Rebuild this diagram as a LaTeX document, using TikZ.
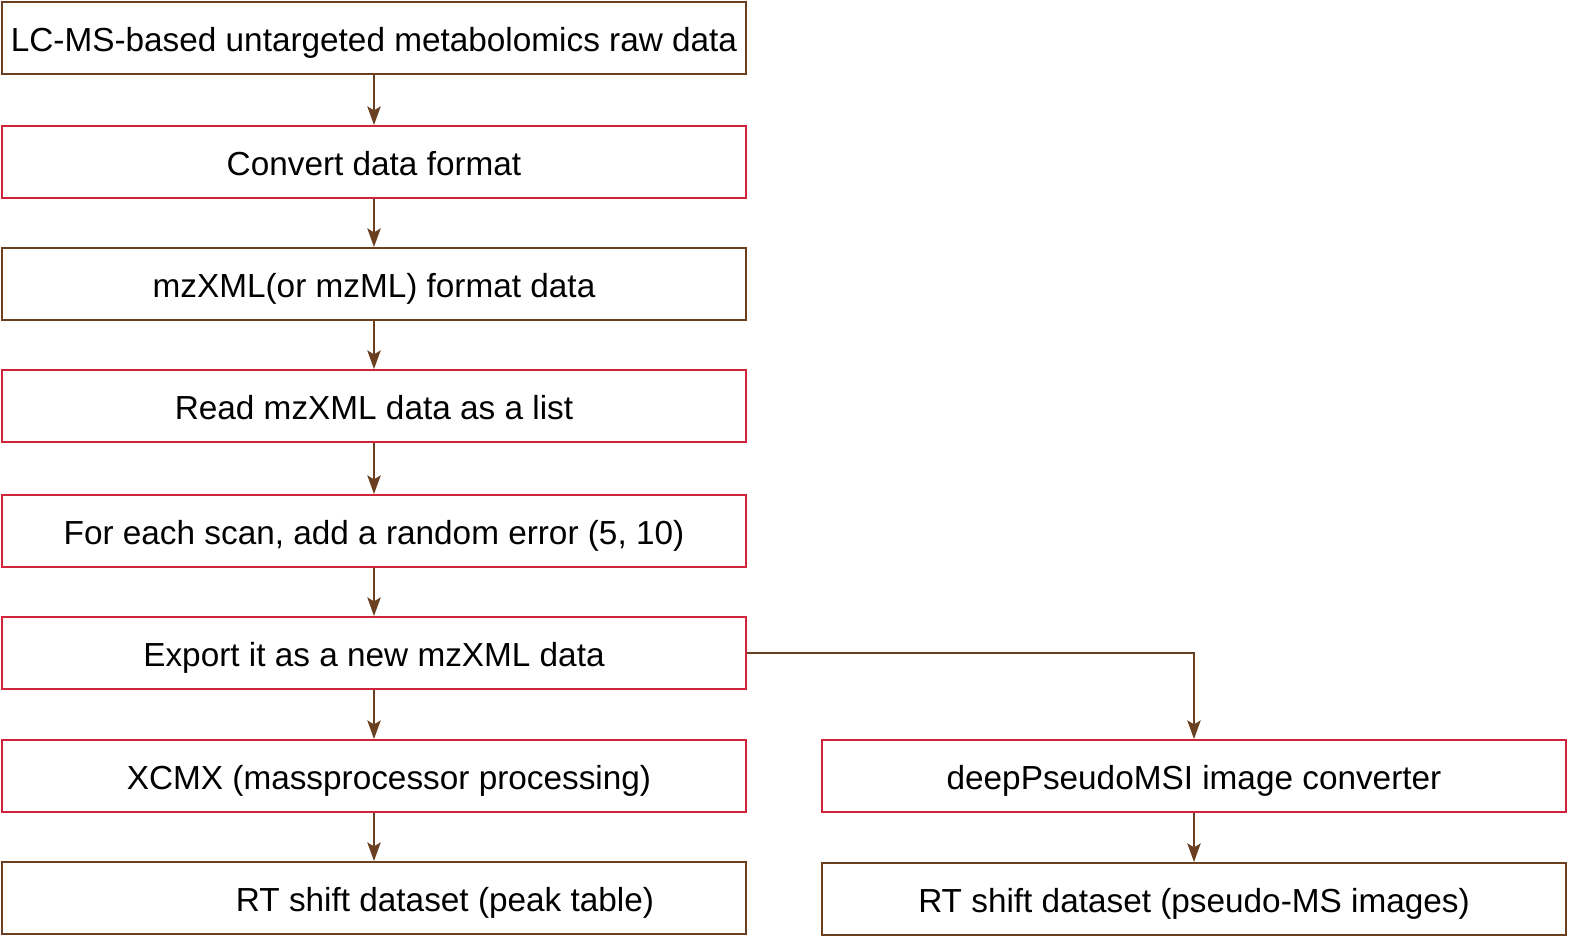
\documentclass[tikz,border=0pt]{standalone}
\usepackage{fontspec}
\setmainfont{Liberation Sans}
\usetikzlibrary{arrows.meta}
\definecolor{brownc}{HTML}{6B4020}
\definecolor{redc}{HTML}{D0243A}
\begin{document}
\begin{tikzpicture}[x=0.75pt,y=-0.75pt,
  boxb/.style={draw=brownc,line width=1.4pt,minimum width=744*0.75pt,minimum height=72*0.75pt,inner sep=0pt,text height=22pt,text depth=2pt,font=\fontsize{25}{29}\selectfont,anchor=center},
  boxr/.style={boxb,draw=redc},
  conn/.style={draw=brownc,line width=1.4pt,-{Stealth[length=14pt,width=10pt,inset=3pt]}}]
\useasboundingbox (0,0) rectangle (1570,938);
\node[boxb] (b1) at (374,38) {LC-MS-based untargeted metabolomics raw data};
\node[boxr] (b2) at (374,162) {Convert data format};
\node[boxb] (b3) at (374,284) {mzXML(or mzML) format data};
\node[boxr] (b4) at (374,406) {Read mzXML data as a list};
\node[boxr] (b5) at (374,531) {For each scan, add a random error (5, 10)};
\node[boxr] (b6) at (374,653) {Export it as a new mzXML data};
\node[boxr] (b7) at (374,776) {\hspace*{30\dimexpr0.75pt\relax}XCMX (massprocessor processing)};
\node[boxb] (b8) at (374,898) {\hspace*{142\dimexpr0.75pt\relax}RT shift dataset (peak table)};
\node[boxr] (b9) at (1194,776) {deepPseudoMSI image converter};
\node[boxb] (b10) at (1194,899) {RT shift dataset (pseudo-MS images)};
\draw[conn] (b1) -- (b2);
\draw[conn] (b2) -- (b3);
\draw[conn] (b3) -- (b4);
\draw[conn] (b4) -- (b5);
\draw[conn] (b5) -- (b6);
\draw[conn] (b6) -- (b7);
\draw[conn] (b7) -- (b8);
\draw[conn] (b6.east) -| (b9.north);
\draw[conn] (b9) -- (b10);
\end{tikzpicture}
\end{document}
